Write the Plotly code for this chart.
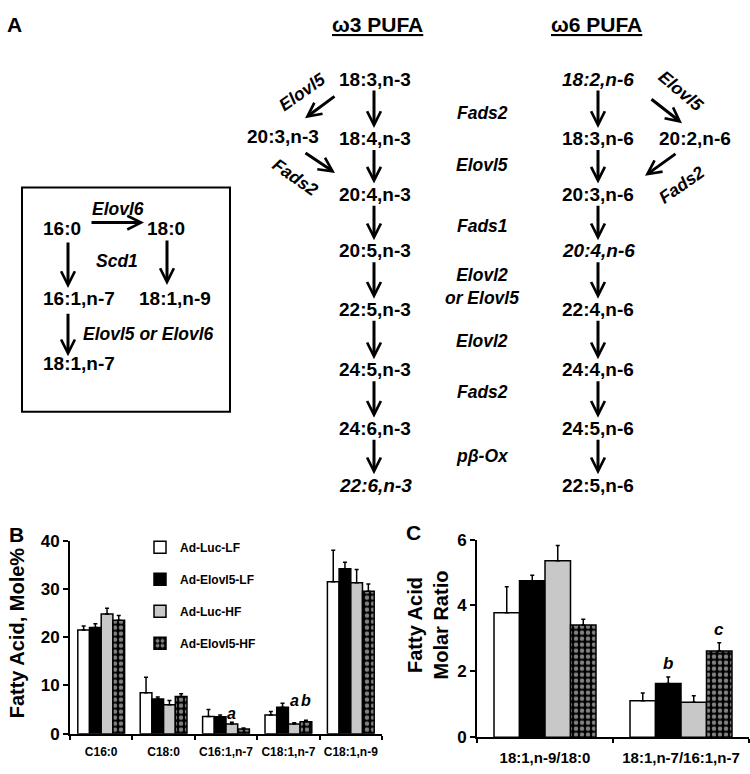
import plotly.graph_objects as go

# ---------------- data ----------------
groups = ["Ad-Luc-LF", "Ad-Elovl5-LF", "Ad-Luc-HF", "Ad-Elovl5-HF"]

b_categories = ["C16:0", "C18:0", "C16:1,n-7", "C18:1,n-7", "C18:1,n-9"]
b_luc_lf = [21.5, 8.5, 3.6, 3.9, 31.5]
b_elovl5_lf = [22.0, 7.2, 3.5, 5.5, 34.2]
b_luc_hf = [24.8, 6.0, 2.0, 2.0, 31.3]
b_elovl5_hf = [23.5, 7.7, 1.0, 2.5, 29.5]
b_err_luc_lf = [0.8, 3.2, 1.4, 0.7, 6.5]
b_err_elovl5_lf = [0.8, 0.4, 0.4, 0.8, 1.3]
b_err_luc_hf = [1.2, 0.9, 0.4, 0.3, 2.7]
b_err_elovl5_hf = [1.0, 0.6, 0.2, 0.3, 1.5]
b_ticks = [0, 10, 20, 30, 40]

c_categories = ["18:1,n-9/18:0", "18:1,n-7/16:1,n-7"]
c_luc_lf = [3.78, 1.11]
c_elovl5_lf = [4.75, 1.63]
c_luc_hf = [5.36, 1.06]
c_elovl5_hf = [3.41, 2.62]
c_err_luc_lf = [0.79, 0.23]
c_err_elovl5_lf = [0.17, 0.20]
c_err_luc_hf = [0.46, 0.20]
c_err_elovl5_hf = [0.17, 0.25]
c_ticks = [0, 2, 4, 6]

# significance letters: (category index, group index, letter)
b_letters = [(2, 2, "a"), (3, 2, "a"), (3, 3, "b")]
c_letters = [(1, 1, "b"), (1, 3, "c")]

# pathway diagram text
omega3_species = ["18:3,n-3", "18:4,n-3", "20:4,n-3", "20:5,n-3",
                  "22:5,n-3", "24:5,n-3", "24:6,n-3", "22:6,n-3"]
omega6_species = ["18:2,n-6", "18:3,n-6", "20:3,n-6", "20:4,n-6",
                  "22:4,n-6", "24:4,n-6", "24:5,n-6", "22:5,n-6"]
omega3_italic = ["22:6,n-3"]
omega6_italic = ["18:2,n-6", "20:4,n-6"]
main_enzymes = ["Fads2", "Elovl5", "Fads1", "Elovl2<br>or Elovl5",
                "Elovl2", "Fads2", "pβ-Ox"]
omega3_side_species = "20:3,n-3"
omega6_side_species = "20:2,n-6"
side_enzymes = ["Elovl5", "Fads2"]
box_species = ["16:0", "18:0", "16:1,n-7", "18:1,n-9", "18:1,n-7"]
box_enzymes = ["Elovl6", "Scd1", "Elovl5 or Elovl6"]
headers = ["ω3 PUFA", "ω6 PUFA"]

# ---------------- layout helpers ----------------
W, H = 750, 774
FONT = "Liberation Sans, Arial, sans-serif"


def px(x):
    return x / W


def py(y):
    return 1 - y / H


fills = ["white", "black", "#c8c8c8", "black"]
patterns = ["", "", "", "."]

fig = go.Figure()

b_vals = [b_luc_lf, b_elovl5_lf, b_luc_hf, b_elovl5_hf]
b_errs = [b_err_luc_lf, b_err_elovl5_lf, b_err_luc_hf, b_err_elovl5_hf]
c_vals = [c_luc_lf, c_elovl5_lf, c_luc_hf, c_elovl5_hf]
c_errs = [c_err_luc_lf, c_err_elovl5_lf, c_err_luc_hf, c_err_elovl5_hf]


def marker(i):
    return dict(color=fills[i], line=dict(color="black", width=1.5),
                pattern=dict(shape=patterns[i], fgcolor="white", bgcolor="black",
                             size=6, solidity=0.45))


for i, g in enumerate(groups):
    fig.add_trace(go.Bar(
        x=b_categories, y=b_vals[i], name=g, legendgroup=g,
        marker=marker(i),
        error_y=dict(type="data", symmetric=False, array=b_errs[i],
                     arrayminus=[0] * len(b_errs[i]), color="black",
                     thickness=1.5, width=2),
        xaxis="x", yaxis="y"))
for i, g in enumerate(groups):
    fig.add_trace(go.Bar(
        x=c_categories, y=c_vals[i], name=g, legendgroup=g, showlegend=False,
        marker=marker(i),
        error_y=dict(type="data", symmetric=False, array=c_errs[i],
                     arrayminus=[0] * len(c_errs[i]), color="black",
                     thickness=1.5, width=2),
        xaxis="x2", yaxis="y2"))

axis_common = dict(showline=True, linecolor="black", linewidth=2, ticks="outside",
                   tickcolor="black", tickwidth=2, showgrid=False, zeroline=False)

fig.update_layout(
    width=W, height=H, margin=dict(l=0, r=0, t=0, b=0),
    paper_bgcolor="white", plot_bgcolor="rgba(0,0,0,0)",
    font=dict(family=FONT, color="black"),
    barmode="group", bargap=0.25, bargroupgap=0,
    xaxis=dict(domain=[px(70), px(382)], anchor="y", type="category",
               range=[-0.5, 4.5], tickson="boundaries", ticklen=4, tickangle=0,
               ticklabelstandoff=6,
               tickfont=dict(size=12, weight="bold"), **axis_common),
    yaxis=dict(domain=[py(743), py(545)], anchor="x", range=[0, 40],
               tickvals=b_ticks, ticklen=5,
               tickfont=dict(size=17, weight="bold"), **axis_common),
    xaxis2=dict(domain=[px(477), px(749)], anchor="y2", type="category",
                range=[-0.5, 1.5], tickson="boundaries", ticklen=4, tickangle=0,
                ticklabelstandoff=6,
                tickfont=dict(size=15, weight="bold"), **axis_common),
    yaxis2=dict(domain=[py(746.5), py(544)], anchor="x2", range=[0, 6],
                tickvals=c_ticks, ticklen=5,
                tickfont=dict(size=17, weight="bold"), **axis_common),
    legend=dict(x=px(140), y=py(537), xanchor="left", yanchor="top",
                bgcolor="rgba(0,0,0,0)", font=dict(size=12, weight="bold"),
                traceorder="grouped", tracegroupgap=13, itemwidth=30),
)

ann = []


def text(x, y, t, size=19, italic=False, angle=0, bold=True):
    ann.append(dict(x=px(x), y=py(y), xref="paper", yref="paper", text=t,
                    showarrow=False, textangle=angle, xanchor="center",
                    yanchor="middle",
                    font=dict(family=FONT, size=size,
                              weight="bold" if bold else "normal",
                              style="italic" if italic else "normal")))


def arrow(x0, y0, x1, y1):
    ann.append(dict(x=px(x1), y=py(y1), xref="paper", yref="paper",
                    ax=x0 - x1, ay=y0 - y1, axref="pixel", ayref="pixel",
                    text="", showarrow=True, arrowhead=5, arrowsize=0.9,
                    arrowwidth=3, arrowcolor="black", standoff=0))


# panel letters
text(14, 16, "A", size=21)
text(16, 539, "B", size=21)
text(413, 537, "C", size=21)

# headers
text(377, 16, "<u>" + headers[0] + "</u>", size=21)
text(596, 16, "<u>" + headers[1] + "</u>", size=21)

# main columns
row_y = [72, 133, 190, 248, 308, 370, 430, 488]
x3, x6, xe = 375, 598, 482
for i, s in enumerate(omega3_species):
    text(x3, row_y[i], s, italic=s in omega3_italic)
for i, s in enumerate(omega6_species):
    text(x6, row_y[i], s, italic=s in omega6_italic)
for i in range(len(row_y) - 1):
    arrow(x3 - 1, row_y[i] + 11, x3 - 1, row_y[i + 1] - 11)
    arrow(x6, row_y[i] + 11, x6, row_y[i + 1] - 11)
enz_y = [107, 160, 222, 284, 340, 393, 458]
for i, e in enumerate(main_enzymes):
    text(xe, enz_y[i], e, size=17.5, italic=True)

# omega-3 side branch
text(283, 131, omega3_side_species)
arrow(336, 89, 305, 112)
text(302, 85, side_enzymes[0], size=17.5, italic=True, angle=-35)
arrow(304, 147, 335, 168)
text(295, 172, side_enzymes[1], size=17.5, italic=True, angle=35)

# omega-6 side branch
text(695, 133, omega6_side_species)
arrow(650, 92, 682, 117)
text(681, 84, side_enzymes[0], size=17.5, italic=True, angle=40)
arrow(677, 148, 645, 171)
text(681, 180, side_enzymes[1], size=17.5, italic=True, angle=-35)

# boxed pathway
text(62, 225, box_species[0])
text(166, 225, box_species[1])
text(79, 297, box_species[2])
text(175, 297, box_species[3])
text(79, 363, box_species[4])
text(118, 205, box_enzymes[0], size=17.5, italic=True)
text(117, 258, box_enzymes[1], size=17.5, italic=True)
text(148, 333, box_enzymes[2], size=17.5, italic=True)
arrow(90, 219, 144, 219)
arrow(68, 239, 68, 286)
arrow(167, 237, 167, 283)
arrow(68, 312, 68, 356)

fig.add_shape(type="rect", xref="paper", yref="paper",
              x0=px(22), x1=px(230), y0=py(413), y1=py(183),
              line=dict(color="black", width=2))

# axis titles
text(17, 640, "Fatty Acid, Mole%", size=20, angle=-90)
text(428, 632, "Fatty Acid<br>Molar Ratio", size=20, angle=-90)

# significance letters
offs = [-0.28125, -0.09375, 0.09375, 0.28125]
b_letter_y = {2: 4.3, 3: 6.9}
for ci, gi, t in b_letters:
    ann.append(dict(x=ci + offs[gi], y=b_letter_y[ci], xref="x", yref="y",
                    text=t, showarrow=False, yanchor="middle",
                    font=dict(family=FONT, size=16, weight="bold", style="italic")))
for ci, gi, t in c_letters:
    top = c_vals[gi][ci] + c_errs[gi][ci]
    ann.append(dict(x=ci + offs[gi], y=top, xref="x2", yref="y2",
                    text=t, showarrow=False, yanchor="bottom", yshift=2,
                    font=dict(family=FONT, size=17, weight="bold", style="italic")))

fig.update_layout(annotations=ann)
fig.write_html(
    "out.html",
    config={"displayModeBar": False},
    post_script="document.body.style.margin='0';document.body.style.overflow='hidden';",
)
